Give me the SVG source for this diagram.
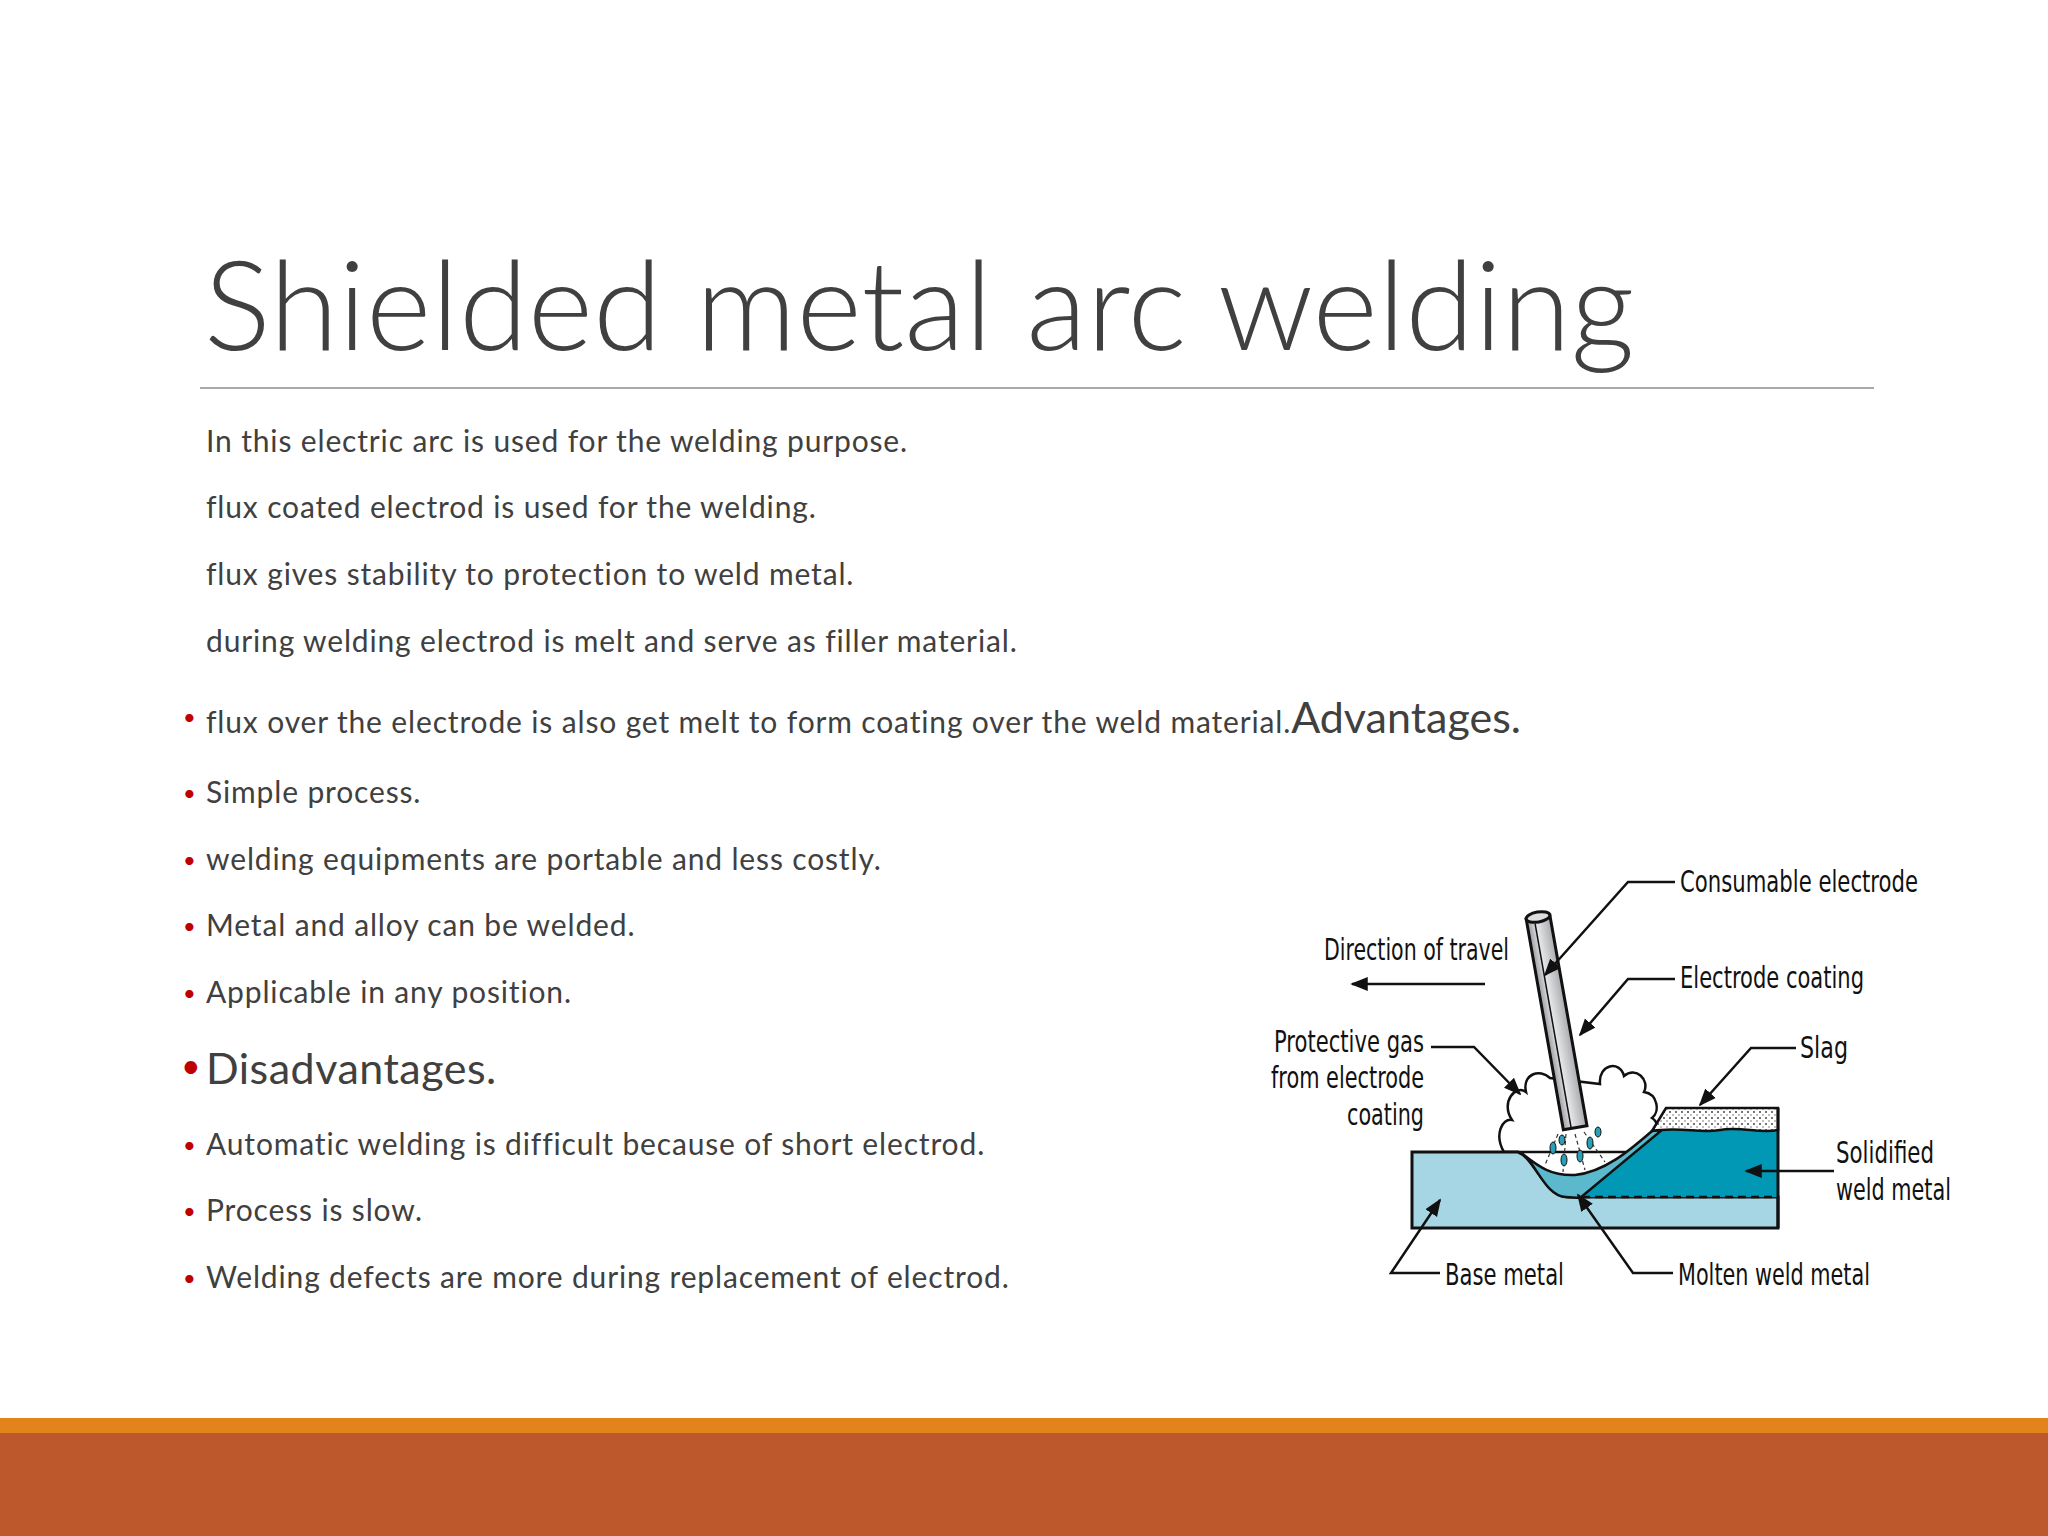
<svg xmlns="http://www.w3.org/2000/svg" width="2048" height="1536" viewBox="0 0 2048 1536">
<style>
.b{font-family:Lato,"Open Sans",sans-serif;font-size:30px;letter-spacing:0.85px;fill:#404040}
.bl{fill:#c00000;font-family:Lato,sans-serif;font-size:22px}
.l{font-family:"DejaVu Sans Condensed","Liberation Sans",sans-serif;font-size:30px;fill:#111}
.ld{fill:none;stroke:#111;stroke-width:2.5}
</style>
<defs>
<marker id="ah" viewBox="0 0 10 10" refX="9" refY="5" markerWidth="7" markerHeight="7" orient="auto-start-reverse"><path d="M0,1 L10,5 L0,9 Z" fill="#111"/></marker>
<pattern id="dots" width="6" height="6" patternUnits="userSpaceOnUse"><rect width="6" height="6" fill="#fff"/><circle cx="2" cy="2" r="0.9" fill="#333"/><circle cx="5" cy="5" r="0.7" fill="#555"/></pattern>
<linearGradient id="rod" x1="0" x2="1"><stop offset="0" stop-color="#9a9b9e"/><stop offset="0.4" stop-color="#e4e5e7"/><stop offset="1" stop-color="#a9aaad"/></linearGradient>
</defs>
<rect width="2048" height="1536" fill="#fff"/>
<text x="204" y="350" font-family="Lato,'Open Sans',sans-serif" font-weight="300" font-size="125" fill="#404040">Shielded metal arc welding</text>
<line x1="200" y1="388" x2="1874" y2="388" stroke="#8c8c8c" stroke-width="1.5"/>
<g id="body">
<text class="b" x="206" y="452">In this electric arc is used for the welding purpose.</text>
<text class="b" x="206" y="518">flux coated electrod is used for the welding.</text>
<text class="b" x="206" y="585">flux gives stability to protection to weld metal.</text>
<text class="b" x="206" y="652">during welding electrod is melt and serve as filler material.</text>
<text class="bl" x="183" y="725">•</text><text class="b" x="206" y="733">flux over the electrode is also get melt to form coating over the weld material.<tspan style="font-size:43px;letter-spacing:0">Advantages.</tspan></text>
<text class="bl" x="183" y="801">•</text><text class="b" x="206" y="803">Simple process.</text>
<text class="bl" x="183" y="868">•</text><text class="b" x="206" y="870">welding equipments are portable and less costly.</text>
<text class="bl" x="183" y="934">•</text><text class="b" x="206" y="936">Metal and alloy can be welded.</text>
<text class="bl" x="183" y="1001">•</text><text class="b" x="206" y="1003">Applicable in any position.</text>
<text class="bl" x="181" y="1078" style="font-size:34px">•</text><text class="b" x="206" y="1084" style="font-size:43px;letter-spacing:0.5px">Disadvantages.</text>
<text class="bl" x="183" y="1153">•</text><text class="b" x="206" y="1155">Automatic welding is difficult because of short electrod.</text>
<text class="bl" x="183" y="1219">•</text><text class="b" x="206" y="1221">Process is slow.</text>
<text class="bl" x="183" y="1286">•</text><text class="b" x="206" y="1288">Welding defects are more during replacement of electrod.</text>
</g>
<g id="figure">
<path d="M1504,1152 C1494,1135 1502,1118 1512,1120 C1500,1102 1516,1084 1526,1092 C1522,1074 1540,1068 1550,1078 L1600,1084 C1598,1064 1620,1060 1624,1076 C1636,1066 1650,1080 1644,1092 C1658,1094 1660,1112 1652,1118 C1658,1122 1658,1128 1654,1132 L1640,1152 Z" fill="#fff" stroke="#111" stroke-width="2.5"/>
<path d="M1412,1152 L1518,1152 C1535,1158 1545,1197 1568,1197 L1778,1197 L1778,1228 L1412,1228 Z" fill="#a6d6e3" stroke="#111" stroke-width="3"/>
<path d="M1578,1197 L1652,1130 C1680,1126 1700,1134 1720,1130 C1740,1126 1760,1134 1778,1130 L1778,1197 Z" fill="#0098b4"/>
<path d="M1520,1152 C1540,1168 1552,1176 1575,1175 C1605,1172 1630,1150 1652,1131 L1662,1130 L1580,1198 L1566,1197 C1545,1197 1535,1160 1520,1152Z" fill="#5cb9cd" stroke="#111" stroke-width="2.5"/>
<path d="M1652,1131 L1666,1108 L1778,1108 L1778,1130 C1760,1134 1740,1126 1720,1130 C1700,1134 1680,1126 1652,1131 Z" fill="url(#dots)" stroke="#111" stroke-width="2.5"/>
<line x1="1582" y1="1197" x2="1778" y2="1197" stroke="#111" stroke-width="2.5" stroke-dasharray="8,5"/>
<line x1="1778" y1="1108" x2="1778" y2="1228" stroke="#111" stroke-width="3"/>
<g stroke="#333" stroke-width="1.2" stroke-dasharray="4,3"><line x1="1558" y1="1134" x2="1545" y2="1165"/><line x1="1566" y1="1134" x2="1563" y2="1172"/><line x1="1575" y1="1134" x2="1585" y2="1170"/><line x1="1584" y1="1132" x2="1605" y2="1162"/></g>
<g fill="#2a9fb5" stroke="#111" stroke-width="1"><ellipse cx="1553" cy="1148" rx="3" ry="6"/><ellipse cx="1562" cy="1140" rx="3" ry="5"/><ellipse cx="1564" cy="1160" rx="3" ry="6"/><ellipse cx="1580" cy="1156" rx="3" ry="6"/><ellipse cx="1590" cy="1143" rx="3" ry="6"/><ellipse cx="1598" cy="1132" rx="3" ry="5"/></g>
<g transform="translate(1538,917) rotate(-10)">
<rect x="-12" y="0" width="24" height="214" fill="url(#rod)" stroke="#111" stroke-width="3"/>
<line x1="-4" y1="6" x2="-4" y2="214" stroke="#111" stroke-width="1.5"/>
<ellipse cx="0" cy="0" rx="12" ry="5" fill="#ddd" stroke="#111" stroke-width="3"/>
</g>
</g>
<g id="connectors">
<path class="ld" d="M1675,882 L1628,882 L1545,975" marker-end="url(#ah)"/>
<path class="ld" d="M1675,979 L1628,979 L1580,1035" marker-end="url(#ah)"/>
<line class="ld" x1="1485" y1="984" x2="1352" y2="984" stroke-width="3" marker-end="url(#ah)"/>
<path class="ld" d="M1431,1047 L1474,1047 L1520,1094" marker-end="url(#ah)"/>
<path class="ld" d="M1796,1048 L1751,1048 L1700,1105" marker-end="url(#ah)"/>
<line class="ld" x1="1834" y1="1171" x2="1746" y2="1171" marker-end="url(#ah)"/>
<path class="ld" d="M1440,1273 L1391,1273 L1440,1200" marker-end="url(#ah)"/>
<path class="ld" d="M1673,1273 L1633,1273 L1578,1195" marker-end="url(#ah)"/>
</g>
<g id="labels">
<text class="l" x="1680" y="892" textLength="238" lengthAdjust="spacingAndGlyphs">Consumable electrode</text>
<text class="l" x="1680" y="988" textLength="184" lengthAdjust="spacingAndGlyphs">Electrode coating</text>
<text class="l" x="1324" y="960" textLength="185" lengthAdjust="spacingAndGlyphs">Direction of travel</text>
<text class="l" x="1274" y="1052" textLength="150" lengthAdjust="spacingAndGlyphs">Protective gas</text>
<text class="l" x="1271" y="1088" textLength="153" lengthAdjust="spacingAndGlyphs">from electrode</text>
<text class="l" x="1347" y="1125" textLength="77" lengthAdjust="spacingAndGlyphs">coating</text>
<text class="l" x="1800" y="1058" textLength="48" lengthAdjust="spacingAndGlyphs">Slag</text>
<text class="l" x="1836" y="1163" textLength="98" lengthAdjust="spacingAndGlyphs">Solidified</text>
<text class="l" x="1836" y="1200" textLength="115" lengthAdjust="spacingAndGlyphs">weld metal</text>
<text class="l" x="1445" y="1285" textLength="119" lengthAdjust="spacingAndGlyphs">Base metal</text>
<text class="l" x="1678" y="1285" textLength="192" lengthAdjust="spacingAndGlyphs">Molten weld metal</text>
</g>
<rect x="0" y="1418" width="2048" height="15" fill="#e3831b"/>
<rect x="0" y="1433" width="2048" height="103" fill="#bd582c"/>
</svg>
